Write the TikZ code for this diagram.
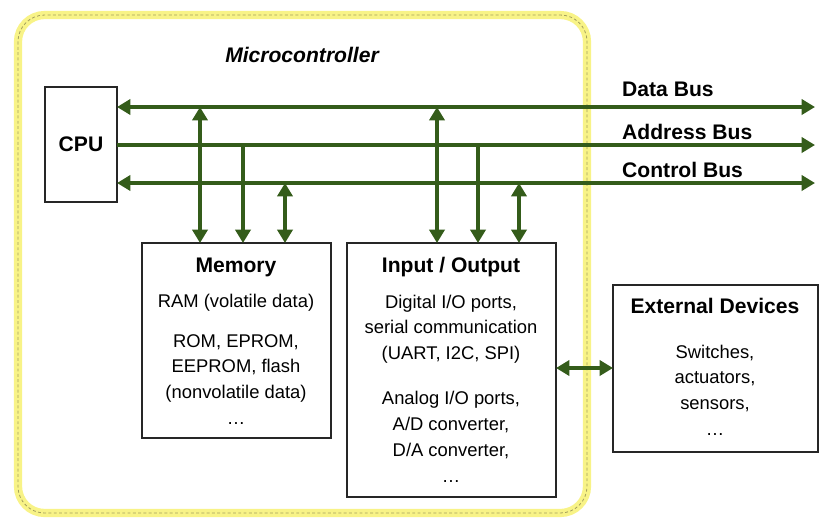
\documentclass[tikz,border=0pt]{standalone}
\usepackage{fontspec}
\setmainfont{Liberation Sans}
\usetikzlibrary{arrows.meta}
\definecolor{busgreen}{RGB}{52,92,26}
\definecolor{mcyellow}{RGB}{248,243,135}
\definecolor{mcdash}{RGB}{165,160,95}
\tikzset{
  bus/.style={busgreen, line width=4.2pt},
  blockbox/.style={draw=black!85, line width=1.3pt, inner sep=0pt, outer sep=0pt, anchor=north west},
  boxtitle/.style={font=\fontsize{18}{21}\selectfont\bfseries, anchor=base},
  boxbody/.style={font=\fontsize{15.7}{22}\selectfont, align=center, anchor=north, inner sep=0pt},
  buslabel/.style={font=\fontsize{18}{21}\selectfont\bfseries, anchor=west, inner sep=0pt}
}
\begin{document}
\begin{tikzpicture}[x=0.03cm, y=-0.03cm, >={Triangle[length=11.5pt,width=13pt]}]
  \useasboundingbox (0,0) rectangle (822,520);
  % Draw the microcontroller frame
  \draw[mcyellow, line width=7pt, rounded corners=0.8cm] (18,15) rectangle (587,513);
  \draw[mcdash, line width=0.7pt, dash pattern=on 2.5pt off 2pt, rounded corners=0.8cm] (18,15) rectangle (587,513);
  \node[font=\fontsize{18}{21}\selectfont\bfseries\itshape] (mctitle) at (302,55) {Microcontroller};
  % Place the blocks
  \node[blockbox, minimum width=2.16cm, minimum height=3.45cm, font=\fontsize{18}{21}\selectfont\bfseries] (cpu) at (45,87) {CPU};
  \node[blockbox, minimum width=5.67cm, minimum height=5.85cm] (mem) at (142,243) {};
  \node[blockbox, minimum width=6.27cm, minimum height=7.62cm] (io) at (347,243) {};
  \node[blockbox, minimum width=6.15cm, minimum height=5.01cm] (ext) at (613,285) {};
  % Block texts
  \node[boxtitle] (memtitle) at (236,272) {Memory};
  \node[boxbody] (membody) at (236,293.6) {RAM (volatile data)\\[12pt] ROM, EPROM,\\ EEPROM, flash\\ (nonvolatile data)\\ \dots};
  \node[boxtitle] (iotitle) at (451,272) {Input / Output};
  \node[boxbody] (iobody) at (451,294.6) {Digital I/O ports,\\ serial communication\\ (UART, I2C, SPI)\\[16.5pt] Analog I/O ports,\\ A/D converter,\\ D/A converter,\\ \dots};
  \node[boxtitle] (exttitle) at (715,313) {External Devices};
  \node[boxbody] (extbody) at (715,344.6) {Switches,\\ actuators,\\ sensors,\\ \dots};
  % Bus ends and labels
  \coordinate (dbend) at (815,107);
  \coordinate (abend) at (815,145);
  \coordinate (cbend) at (815,183);
  \node[buslabel] (dblabel) at (622,89.5) {Data Bus};
  \node[buslabel] (ablabel) at (622,131.5) {Address Bus};
  \node[buslabel] (cblabel) at (622,169.5) {Control Bus};
  % Draw the buses
  \draw[bus, <->] (cpu.east |- dbend) -- (dbend);
  \draw[bus, ->] (cpu.east |- abend) -- (abend);
  \draw[bus, <->] (cpu.east |- cbend) -- (cbend);
  % Draw taps bus -> memory
  \coordinate (mtapd) at (200,243);
  \coordinate (mtapa) at (243,243);
  \coordinate (mtapc) at (285,243);
  \draw[bus, <->] (mtapd |- dbend) -- (mtapd);
  \draw[bus, ->] (mtapa |- abend) -- (mtapa);
  \draw[bus, <->] (mtapc |- cbend) -- (mtapc);
  % Draw taps bus -> I/O
  \coordinate (iotapd) at (437,243);
  \coordinate (iotapa) at (478,243);
  \coordinate (iotapc) at (519,243);
  \draw[bus, <->] (iotapd |- dbend) -- (iotapd);
  \draw[bus, ->] (iotapa |- abend) -- (iotapa);
  \draw[bus, <->] (iotapc |- cbend) -- (iotapc);
  % Draw link I/O <-> external devices
  \coordinate (extlink) at (585,368);
  \draw[bus, <->] (io.east |- extlink) -- (ext.west |- extlink);
\end{tikzpicture}
\end{document}
